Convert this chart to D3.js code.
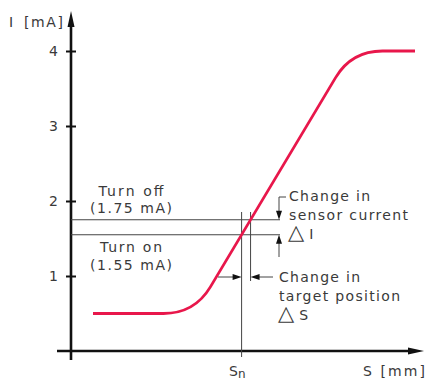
<!DOCTYPE html>
<html>
<head>
<meta charset="utf-8">
<script src="https://d3js.org/d3.v7.min.js"></script>
<style>
body { margin: 0; background: #fff; }
svg { display: block; }
text { font-family: 'DejaVu Sans', sans-serif; font-size: 14px; fill: #3a3a3a; }
.thin { stroke: #444; stroke-width: 1; fill: none; }
.axis-line { stroke: #111; stroke-width: 2.6; fill: none; }
.curve { stroke: #e8174b; stroke-width: 2.8; fill: none; stroke-linejoin: round; }
</style>
</head>
<body>
<svg id="chart" width="427" height="381"></svg>
<script>
// values
const yTicks = [1, 2, 3, 4];
const curveS = [2.2, 12.35, 28.05, 34.4];   // S [mm] at flat start, ramp start, ramp end, flat end
const curveI = [0.5, 0.5, 4, 4];            // I [mA]
const turnOff = 1.75;
const turnOn = 1.55;
const leftLabels = ['Turn off', '(1.75 mA)', 'Turn on', '(1.55 mA)'];
const noteI = ['Change in', 'sensor current', 'I'];
const noteS = ['Change in', 'target position', 'S'];

const svg = d3.select('#chart');

const x = d3.scaleLinear().domain([0, 35]).range([71, 421]);
const y = d3.scaleLinear().domain([0, 4]).range([351, 51]);

// S on the ramp for a given current
const sAt = (i) => curveS[1] + (i - curveI[1]) / (curveI[2] - curveI[1]) * (curveS[2] - curveS[1]);
const sOn = sAt(turnOn);
const sOff = sAt(turnOff);

function arrowHead(tx, ty, dir, len = 9, half = 3) {
  // dir = direction the tip points
  let p;
  if (dir === 'down') p = [[tx, ty], [tx - half, ty - len], [tx + half, ty - len]];
  if (dir === 'up') p = [[tx, ty], [tx - half, ty + len], [tx + half, ty + len]];
  if (dir === 'right') p = [[tx, ty], [tx - len, ty - half], [tx - len, ty + half]];
  if (dir === 'left') p = [[tx, ty], [tx + len, ty - half], [tx + len, ty + half]];
  svg.append('path')
    .attr('d', 'M' + p.map(q => q.join(',')).join('L') + 'Z')
    .attr('fill', '#111');
}

// axes
svg.append('line').attr('class', 'axis-line')
  .attr('x1', x(0)).attr('y1', 360).attr('x2', x(0)).attr('y2', 22);
arrowHead(x(0), 11, 'up', 16, 3.5);
svg.append('line').attr('class', 'axis-line')
  .attr('x1', 57).attr('y1', y(0)).attr('x2', 412).attr('y2', y(0));
arrowHead(424, y(0), 'right', 16, 3.5);

const yAxis = svg.append('g')
  .attr('transform', `translate(${x(0)},0)`)
  .call(d3.axisLeft(y).tickValues(yTicks).tickSize(5).tickPadding(8).tickFormat(d3.format('d')));
yAxis.select('.domain').remove();
yAxis.selectAll('.tick line').attr('x1', 5).attr('stroke', '#111').attr('stroke-width', 2);
yAxis.selectAll('.tick text')
  .style('font-family', "'DejaVu Sans', sans-serif")
  .style('font-size', '14px')
  .attr('fill', '#444');

// threshold lines
svg.append('line').attr('class', 'thin')
  .attr('x1', x(0)).attr('x2', 280).attr('y1', y(turnOff)).attr('y2', y(turnOff));
svg.append('line').attr('class', 'thin')
  .attr('x1', x(0)).attr('x2', 280).attr('y1', y(turnOn)).attr('y2', y(turnOn));
svg.append('line').attr('class', 'thin')
  .attr('x1', x(sOn)).attr('x2', x(sOn)).attr('y1', 212).attr('y2', 357);
svg.append('line').attr('class', 'thin')
  .attr('x1', x(sOff)).attr('x2', x(sOff)).attr('y1', 212).attr('y2', 281);

// current curve with rounded corners
const pts = curveS.map((s, k) => [x(s), y(curveI[k])]);
const r = 31;
const path = d3.path();
path.moveTo(pts[0][0], pts[0][1]);
for (let k = 1; k < pts.length - 1; k++) {
  const [px, py] = pts[k - 1], [cx, cy] = pts[k], [nx, ny] = pts[k + 1];
  const d1 = Math.hypot(cx - px, cy - py), d2 = Math.hypot(nx - cx, ny - cy);
  path.lineTo(cx - (cx - px) / d1 * r, cy - (cy - py) / d1 * r);
  path.quadraticCurveTo(cx, cy, cx + (nx - cx) / d2 * r, cy + (ny - cy) / d2 * r);
}
path.lineTo(pts[pts.length - 1][0], pts[pts.length - 1][1]);
svg.append('path').attr('class', 'curve').attr('d', path.toString());

// delta I arrows
const ax = 279;
svg.append('line').attr('class', 'thin').attr('x1', ax).attr('x2', 286).attr('y1', 197).attr('y2', 197);
svg.append('line').attr('class', 'thin').attr('x1', ax).attr('x2', ax).attr('y1', 197).attr('y2', y(turnOff) - 4);
arrowHead(ax, y(turnOff), 'down');
svg.append('line').attr('class', 'thin').attr('x1', ax).attr('x2', ax).attr('y1', 257).attr('y2', y(turnOn) + 4);
arrowHead(ax, y(turnOn), 'up');

// delta S arrows
const ay = 277;
svg.append('line').attr('class', 'thin').attr('x1', 218).attr('x2', x(sOn) - 4).attr('y1', ay).attr('y2', ay);
arrowHead(x(sOn), ay, 'right');
svg.append('line').attr('class', 'thin').attr('x1', 273).attr('x2', x(sOff) + 4).attr('y1', ay).attr('y2', ay);
arrowHead(x(sOff), ay, 'left');

// labels
function label(t, tx, ty, opts = {}) {
  const el = svg.append('text').attr('x', tx).attr('y', ty).text(t)
    .attr('text-anchor', opts.anchor || 'start');
  if (opts.len) el.attr('textLength', opts.len).attr('lengthAdjust', 'spacing');
  return el;
}

function delta(t, tx, ty) {
  const el = svg.append('text').attr('x', tx).attr('y', ty);
  el.append('tspan').style('font-size', '21px').text('\u25B3');
  el.append('tspan').attr('dx', 5).text(t);
}

const leftY = [196, 212.5, 251.5, 270];
const leftLen = [65, 82, 62, 82];
leftLabels.forEach((t, k) => label(t, 131, leftY[k], { anchor: 'middle', len: leftLen[k] }));

label(noteI[0], 289, 201, { len: 81 });
label(noteI[1], 289, 219.5, { len: 119 });
delta(noteI[2], 288, 239);
label(noteS[0], 279, 282, { len: 81 });
label(noteS[1], 279, 300.5, { len: 121 });
delta(noteS[2], 278, 320);

label('I', 9, 27);
label('[mA]', 24, 27, { len: 39 });
label('S [mm]', 363, 376, { len: 62 });
const sn = label('S', 229, 376);
sn.append('tspan').attr('dy', 2).style('font-size', '12px').text('n');
</script>
</body>
</html>
